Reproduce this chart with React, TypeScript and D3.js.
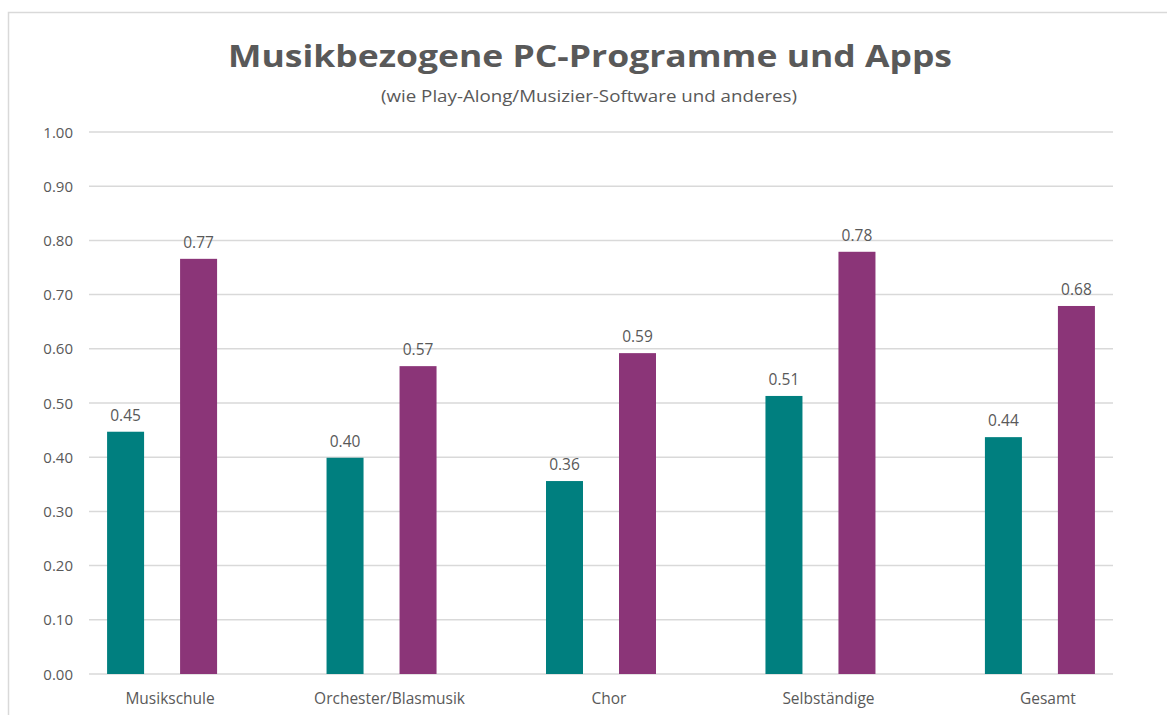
import React from "react";
import * as d3 from "d3";

const categories = ["Musikschule", "Orchester/Blasmusik", "Chor", "Selbständige", "Gesamt"];
const seriesA = [0.447, 0.399, 0.356, 0.513, 0.437];
const seriesB = [0.766, 0.568, 0.592, 0.779, 0.679];
const yTicks = [0, 0.1, 0.2, 0.3, 0.4, 0.5, 0.6, 0.7, 0.8, 0.9, 1.0];
const titleText = "Musikbezogene PC-Programme und Apps";
const subtitleText = "(wie Play-Along/Musizier-Software und anderes)";

const W = 1167;
const H = 715;
const FONT = "'Open Sans', 'Liberation Sans', sans-serif";
const TEXT = "#595959";
const GRID = "#d9d9d9";
const COLA = "#007f7f";
const COLB = "#8b3578";

export default function App() {
  const x = d3.scalePoint<string>().domain(categories).range([89, 1113]).padding(0.333);
  const y = d3.scaleLinear().domain([0, 1]).range([674, 132]);
  const barW = 37;
  const off = 36.5;
  const labelShift = 8;
  const series = [
    { vals: seriesA, color: COLA, dx: -off },
    { vals: seriesB, color: COLB, dx: off },
  ];
  return (
    <svg width={W} height={H} style={{ position: "absolute", left: 0, top: 0, background: "#fff" }}>
      <rect x={8.5} y={12.5} width={W + 10} height={H + 10} fill="#fff" stroke={GRID} strokeWidth={1.5} />
      <text x={590} y={67} textAnchor="middle" fontFamily={FONT} fontWeight="bold" fontSize={31} fill={TEXT} textLength={724} lengthAdjust="spacingAndGlyphs">
        {titleText}
      </text>
      <text x={589} y={102} textAnchor="middle" fontFamily={FONT} fontSize={16} fill={TEXT} textLength={416} lengthAdjust="spacingAndGlyphs">
        {subtitleText}
      </text>
      {yTicks.map((t) => (
        <g key={t}>
          <line x1={89} x2={1113} y1={y(t)} y2={y(t)} stroke={GRID} strokeWidth={1.5} />
          <text x={73} y={y(t) + 5.5} textAnchor="end" fontFamily={FONT} fontSize={15} fill={TEXT}>
            {t.toFixed(2)}
          </text>
        </g>
      ))}
      {series.map((s, si) =>
        categories.map((c, i) => {
          const cx = (x(c) as number) + s.dx;
          const v = s.vals[i];
          return (
            <g key={`${si}-${i}`}>
              <rect x={cx - barW / 2} y={y(v)} width={barW} height={y(0) - y(v)} fill={s.color} />
              <text x={cx} y={y(v) - 11} textAnchor="middle" fontFamily={FONT} fontSize={15.5} fill={TEXT}>
                {v.toFixed(2)}
              </text>
            </g>
          );
        })
      )}
      {categories.map((c) => (
        <text key={c} x={(x(c) as number) + labelShift} y={704} textAnchor="middle" fontFamily={FONT} fontSize={15.5} fill={TEXT}>
          {c}
        </text>
      ))}
    </svg>
  );
}
